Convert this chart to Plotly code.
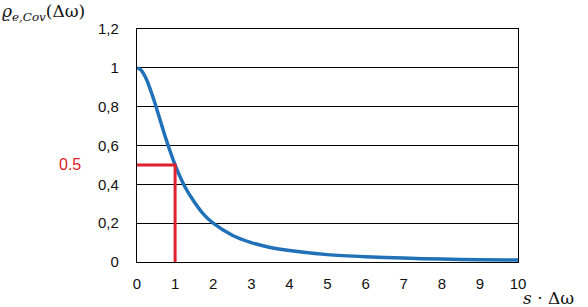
import plotly.graph_objects as go

# data
x_vals = [0, 0.1, 0.25, 0.4, 0.5, 0.75, 1, 1.25, 1.5, 1.75, 2, 2.5, 3, 3.5, 4, 5, 6, 7, 8, 9, 10]
rho_vals = [1.0, 0.99, 0.94, 0.86, 0.8, 0.64, 0.5, 0.39, 0.31, 0.245, 0.2, 0.138, 0.1, 0.075, 0.059, 0.038, 0.027, 0.02, 0.015, 0.012, 0.01]
marker_x = [0, 1, 1]
marker_y = [0.5, 0.5, 0]
y_ticks = [0, 0.2, 0.4, 0.6, 0.8, 1.0, 1.2]
y_tick_text = ["0", "0,2", "0,4", "0,6", "0,8", "1", "1,2"]
x_ticks = list(range(0, 11))

BLUE = "#2171b8"
RED = "#e0202a"
FONT = "Liberation Sans, Arial, sans-serif"

fig = go.Figure()
fig.add_trace(go.Scatter(x=x_vals, y=rho_vals, mode="lines",
                         line=dict(color=BLUE, width=3.5, shape="spline", smoothing=0.6),
                         hoverinfo="skip", showlegend=False))
fig.add_trace(go.Scatter(x=marker_x, y=marker_y, mode="lines",
                         line=dict(color=RED, width=3), hoverinfo="skip", showlegend=False))

fig.update_layout(
    width=588, height=307,
    margin=dict(l=137, r=70, t=29, b=45),
    paper_bgcolor="white", plot_bgcolor="white",
    font=dict(family=FONT, size=15, color="#111"),
    xaxis=dict(range=[0, 10], tickvals=x_ticks, showgrid=False, zeroline=False,
               showline=True, linecolor="black", linewidth=1.3, mirror=True,
               ticks="", ticklabelstandoff=8, tickfont=dict(size=15)),
    yaxis=dict(range=[0, 1.2], tickvals=y_ticks, ticktext=y_tick_text,
               showgrid=True, gridcolor="black", gridwidth=1.2, zeroline=False,
               showline=True, linecolor="black", linewidth=1.3, mirror=True,
               ticks="", ticklabelstandoff=14, tickfont=dict(size=15)),
    annotations=[
        dict(text="<i>ϱ</i><sub><i>e,Cov</i></sub>(Δω)", xref="paper", yref="paper",
             x=-0.359, y=1.07, xanchor="left", yanchor="middle", showarrow=False,
             font=dict(family="DejaVu Serif, serif", size=17, color="#111")),
        dict(text="<i>s</i> · Δω", xref="paper", yref="paper",
             x=1.079, y=-0.155, xanchor="center", yanchor="middle", showarrow=False,
             font=dict(family="DejaVu Serif, serif", size=17, color="#111")),
        dict(text="0.5", xref="paper", yref="y", x=-0.176, y=0.5,
             xanchor="center", yanchor="middle", showarrow=False,
             font=dict(family=FONT, size=16, color=RED)),
    ],
)

fig.write_html("out.html")
